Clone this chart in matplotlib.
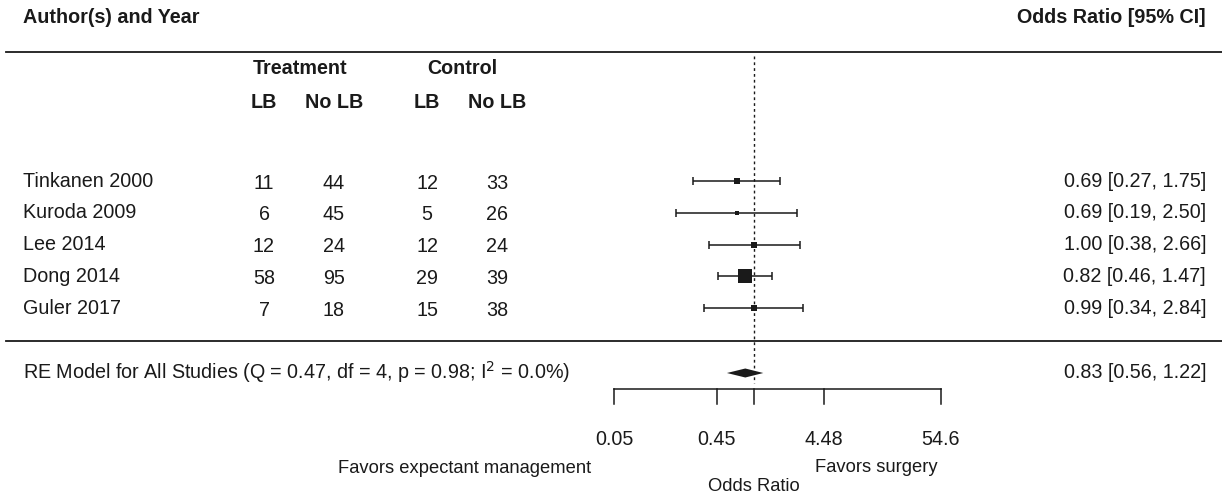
import numpy as np
import matplotlib
matplotlib.use("Agg")
import matplotlib.pyplot as plt

plt.rcParams['font.family'] = ['Liberation Sans', 'DejaVu Sans']

studies = ["Tinkanen 2000", "Kuroda 2009", "Lee 2014", "Dong 2014", "Guler 2017"]
trt_lb = [11, 6, 12, 58, 7]
trt_nolb = [44, 45, 24, 95, 18]
ctl_lb = [12, 5, 12, 29, 15]
ctl_nolb = [33, 26, 24, 39, 38]
odds = [0.69, 0.69, 1.00, 0.82, 0.99]
ci_lo = [0.27, 0.19, 0.38, 0.46, 0.34]
ci_hi = [1.75, 2.50, 2.66, 1.47, 2.84]

re_label = "RE Model for All Studies (Q = 0.47, df = 4, p = 0.98; I$^2$ = 0.0%)"
re_est, re_lo, re_hi = 0.83, 0.56, 1.22

tick_vals = [0.05, 0.45, 1.0, 4.48, 54.6]
tick_labels = ["0.05", "0.45", "", "4.48", "54.6"]

W, H = 1222, 498
fig = plt.figure(figsize=(W / 100, H / 100), dpi=100)
ax = fig.add_axes([0, 0, 1, 1])
ax.set_xscale('log')
# 46.7 px per log unit, OR = 1 at pixel 754
ax.set_xlim(np.exp(-754 / 46.7), np.exp((W - 754) / 46.7))
ax.set_ylim(H, 0)
ax.axis('off')
tr = ax.get_yaxis_transform()  # x in axes fraction, y in pixels
fs = 14.2
ink = '#1a1a1a'
plt.rcParams['text.color'] = ink

def px(p):
    return p / W

# header
ax.text(px(23), 17, "Author(s) and Year", transform=tr, fontsize=fs, fontweight='bold', va='center')
ax.text(px(1206), 17, "Odds Ratio [95% CI]", transform=tr, fontsize=fs, fontweight='bold', va='center', ha='right')
ax.plot([px(6), 1], [52, 52], transform=tr, color=ink, lw=1.3)
ax.plot([px(6), 1], [341, 341], transform=tr, color=ink, lw=1.3)

ax.text(px(300), 68, "Treatment", transform=tr, fontsize=fs, fontweight='bold', va='center', ha='center')
ax.text(px(462), 68, "Control", transform=tr, fontsize=fs, fontweight='bold', va='center', ha='center')
col_x = [264, 334, 427, 497]
for cx, lab in zip(col_x, ["LB", "No LB", "LB", "No LB"]):
    ax.text(px(cx), 102, lab, transform=tr, fontsize=fs, fontweight='bold', va='center', ha='center')

# reference line
ax.plot([1, 1], [56, 383], color=ink, lw=1.0, linestyle=(0, (2, 2.2)))

row_y = 181 + 31.75 * np.arange(len(studies))

# square sizes from inverse-variance weights
se = (np.log(ci_hi) - np.log(ci_lo)) / (2 * 1.96)
w = 1 / se ** 2
sizes = 4.5 + (w - w.min()) / (w.max() - w.min()) * 9.5

for i, name in enumerate(studies):
    y = row_y[i]
    ax.text(px(23), y, name, transform=tr, fontsize=fs, va='center')
    for cx, v in zip(col_x, [trt_lb[i], trt_nolb[i], ctl_lb[i], ctl_nolb[i]]):
        ax.text(px(cx), y + 2, str(v), transform=tr, fontsize=fs, va='center', ha='center')
    ax.text(px(1206), y, "%.2f [%.2f, %.2f]" % (odds[i], ci_lo[i], ci_hi[i]),
            transform=tr, fontsize=fs, va='center', ha='right')
    ax.errorbar([odds[i]], [y], xerr=[[odds[i] - ci_lo[i]], [ci_hi[i] - odds[i]]],
                fmt='none', ecolor=ink, elinewidth=1.1, capsize=3.2, capthick=1.1)
    ax.plot([odds[i]], [y], marker='s', color=ink, markersize=sizes[i] * 0.72,
            markeredgewidth=0)

# summary
ry = 373
ax.text(px(23), ry - 1, re_label, transform=tr, fontsize=fs, va='center')
ax.text(px(1206), ry - 1, "%.2f [%.2f, %.2f]" % (re_est, re_lo, re_hi), transform=tr,
        fontsize=fs, va='center', ha='right')
ax.fill([re_lo, re_est, re_hi, re_est], [ry, ry - 4.5, ry, ry + 4.5], color=ink, lw=0)

# x axis
ay = 389
ax.plot([tick_vals[0], tick_vals[-1]], [ay, ay], color=ink, lw=1.1)
for tv, tl in zip(tick_vals, tick_labels):
    ax.plot([tv, tv], [ay, ay + 15], color=ink, lw=1.1)
    ax.text(tv, 439, tl, fontsize=fs, ha='center', va='center')

fs_lab = 13.2
ax.text(px(465), 468, "Favors expectant management", transform=tr, fontsize=fs_lab, ha='center', va='center')
ax.text(px(815), 467, "Favors surgery", transform=tr, fontsize=fs_lab, ha='left', va='center')
ax.text(1.0, 486, "Odds Ratio", fontsize=fs_lab, ha='center', va='center')

fig.savefig("out.png", dpi=100)
